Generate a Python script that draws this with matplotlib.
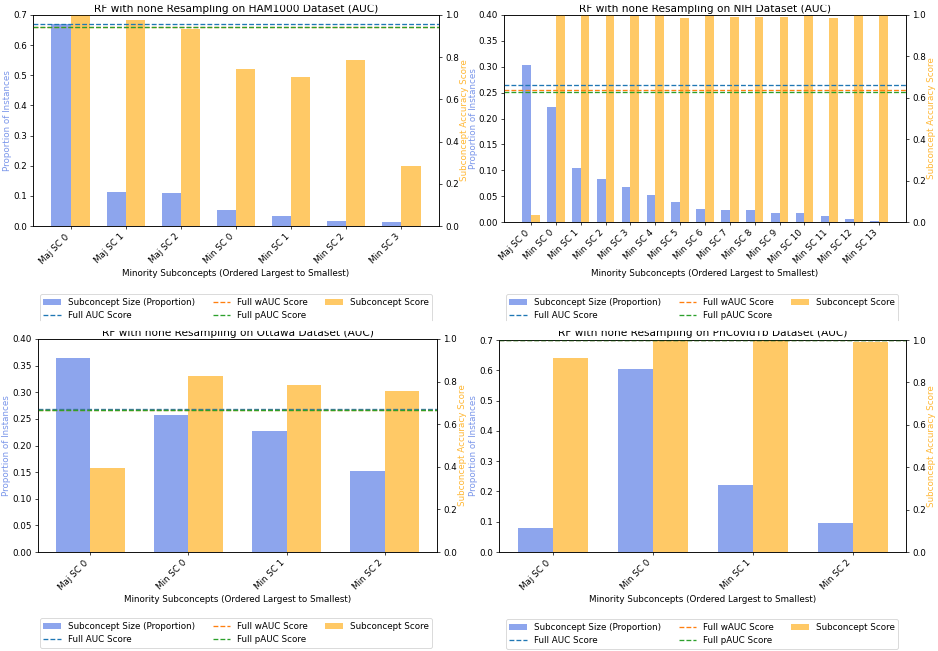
import numpy as np
from matplotlib import pyplot as plt
from matplotlib.patches import Rectangle

# HAM1000
ham_labels = ['Maj SC 0', 'Maj SC 1', 'Maj SC 2', 'Min SC 0', 'Min SC 1', 'Min SC 2', 'Min SC 3']
ham_size = [0.671, 0.113, 0.110, 0.053, 0.034, 0.016, 0.013]
ham_score = [1.0, 0.975, 0.934, 0.743, 0.705, 0.785, 0.284]
ham_full = [0.959, 0.943, 0.941]  # AUC, wAUC, pAUC

# NIH
nih_labels = ['Maj SC 0'] + ['Min SC %d' % i for i in range(14)]
nih_size = [0.303, 0.222, 0.104, 0.084, 0.068, 0.052, 0.038, 0.025, 0.024, 0.023,
            0.018, 0.017, 0.012, 0.0066, 0.0015]
nih_score = [0.034, 1.0, 1.0, 1.0, 0.995, 1.0, 0.987, 0.997, 0.992, 0.989,
             0.992, 0.997, 0.987, 1.0, 1.0]
nih_full = [0.660, 0.637, 0.627]

# Ottawa
ott_labels = ['Maj SC 0', 'Min SC 0', 'Min SC 1', 'Min SC 2']
ott_size = [0.364, 0.258, 0.227, 0.153]
ott_score = [0.393, 0.825, 0.782, 0.754]
ott_full = [0.673, 0.667, 0.665]

# PhCovidTb
phc_labels = ['Maj SC 0', 'Min SC 0', 'Min SC 1', 'Min SC 2']
phc_size = [0.079, 0.604, 0.221, 0.096]
phc_score = [0.915, 1.0, 1.0, 0.992]
phc_full = [1.0, 1.0, 1.0]

W, H = 938, 651
DPI = 63


def px_rect(l, t, r, b):
	return [l / W, 1 - b / H, (r - l) / W, (b - t) / H]


def drawPanel(fig, rect, name, labels, size, score, full, ymax, yticks, legend_pos):
	ax = fig.add_axes(px_rect(*rect))
	ax2 = ax.twinx()
	x = np.arange(len(labels))
	w = 0.35
	b1 = ax.bar(x - w / 2, size, w, color='royalblue', alpha=0.6, label='Subconcept Size (Proportion)')
	b2 = ax2.bar(x + w / 2, score, w, color='orange', alpha=0.6, label='Subconcept Score')
	l1 = ax2.axhline(full[0], color='tab:blue', linestyle='--', label='Full AUC Score')
	l2 = ax2.axhline(full[1], color='tab:orange', linestyle='--', label='Full wAUC Score')
	l3 = ax2.axhline(full[2], color='tab:green', linestyle='--', label='Full pAUC Score')
	ax.set_ylim(0, ymax)
	ax.set_yticks(yticks)
	ax2.set_ylim(0, 1.0)
	ax.set_xticks(x)
	ax.set_xticklabels(labels, rotation=45, ha='right')
	ax.set_xlabel('Minority Subconcepts (Ordered Largest to Smallest)')
	ax.set_ylabel('Proportion of Instances', color='royalblue', alpha=0.7, labelpad=1)
	ax2.set_ylabel('Subconcept Accuracy Score', color='orange', alpha=0.8, labelpad=1)
	ax.set_title('RF with none Resampling on %s Dataset (AUC)' % name, pad=4)
	handles = [b1, l1, l2, l3, b2]
	ax.legend(handles, [h.get_label() for h in handles], ncol=3, loc='upper center',
	          bbox_to_anchor=(legend_pos[0] / W, 1 - legend_pos[1] / H),
	          bbox_transform=fig.transFigure)
	return ax


fig = plt.figure(figsize=(W / DPI, H / DPI), dpi=DPI)

drawPanel(fig, (33, 15, 439, 226), 'HAM1000', ham_labels, ham_size, ham_score, ham_full,
          0.7, np.arange(0, 0.71, 0.1), (236, 290))
drawPanel(fig, (504, 15, 906, 222), 'NIH', nih_labels, nih_size, nih_score, nih_full,
          0.40, np.arange(0, 0.401, 0.05), (702, 290))
drawPanel(fig, (38, 339, 437, 552), 'Ottawa', ott_labels, ott_size, ott_score, ott_full,
          0.40, np.arange(0, 0.401, 0.05), (236, 614))
drawPanel(fig, (499, 340, 906, 552), 'PhCovidTb', phc_labels, phc_size, phc_score, phc_full,
          0.7, np.arange(0, 0.71, 0.1), (702, 615))

# the panels were cut apart: hide the strips the crops removed
fig.add_artist(Rectangle((0, 1 - 330 / H), 1, 9 / H, transform=fig.transFigure,
                         color='white', zorder=10))
fig.add_artist(Rectangle((0, 1 - 4 / H), 1, 4 / H, transform=fig.transFigure,
                         color='white', zorder=10))

fig.savefig('out.png', dpi=DPI)
